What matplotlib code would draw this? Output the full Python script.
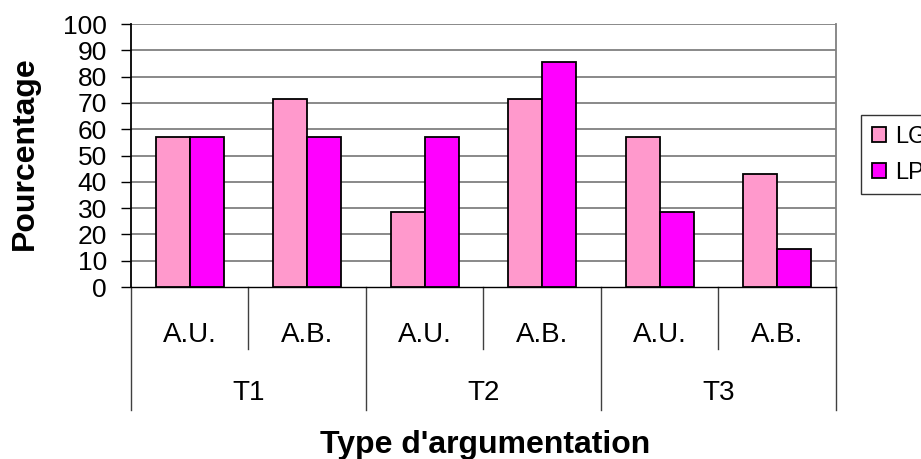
import numpy as np
import matplotlib.pyplot as plt
from matplotlib.patches import Patch

plt.rcParams["font.family"] = ["Liberation Sans", "DejaVu Sans"]

# ------------------------------------------------------------
# data
# ------------------------------------------------------------
sub_labels = ["A.U.", "A.B.", "A.U.", "A.B.", "A.U.", "A.B."]
group_labels = ["T1", "T2", "T3"]
lg_values = [57.1, 71.4, 28.6, 71.4, 57.1, 42.9]
lp_values = [57.1, 57.1, 57.1, 85.7, 28.6, 14.3]
series_names = ["LG", "LP"]
y_ticks = list(range(0, 101, 10))

LG_COLOR = "#FF99CC"
LP_COLOR = "#FF00FF"
GRID_COLOR = "#808080"

# ------------------------------------------------------------
# figure
# ------------------------------------------------------------
fig = plt.figure(figsize=(9.21, 4.59), dpi=100)
ax = fig.add_axes([0.1422, 0.3747, 0.7655, 0.573])

x = np.arange(len(sub_labels))
w = 0.29
ax.bar(x - w / 2, lg_values, width=w, color=LG_COLOR, edgecolor="black", linewidth=1.3, zorder=3)
ax.bar(x + w / 2, lp_values, width=w, color=LP_COLOR, edgecolor="black", linewidth=1.3, zorder=3)

ax.set_xlim(-0.5, len(sub_labels) - 0.5)
ax.set_ylim(0, 100)
ax.set_yticks(y_ticks)
ax.set_yticklabels([str(v) for v in y_ticks], fontsize=19)
ax.tick_params(axis="y", direction="out", length=7.2, width=1, pad=10, colors="black")
ax.set_xticks([])

for v in y_ticks[1:]:
    ax.axhline(v, color=GRID_COLOR, linewidth=1.3, zorder=1)

ax.spines["left"].set_color("black")
ax.spines["left"].set_linewidth(1.3)
ax.spines["bottom"].set_color("black")
ax.spines["bottom"].set_linewidth(1.0)
ax.spines["right"].set_color(GRID_COLOR)
ax.spines["right"].set_linewidth(1.3)
ax.spines["top"].set_visible(False)

fig.text(25 / 921, 1 - 153 / 459, "Pourcentage", rotation=90, ha="center", va="center",
         fontsize=23, fontweight="bold")

# multi-level category axis
trans = ax.get_xaxis_transform()
for i in range(len(sub_labels) + 1):
    xb = i - 0.5
    depth = -0.468 if i % 2 == 0 else -0.236
    ax.plot([xb, xb], [0, depth], transform=trans, color="#404040",
            linewidth=1.0, clip_on=False)

for i, lab in enumerate(sub_labels):
    ax.text(i, -0.209, lab, transform=trans, ha="center", va="baseline", fontsize=20)

for g, lab in enumerate(group_labels):
    ax.text(2 * g + 0.5, -0.430, lab, transform=trans, ha="center", va="baseline", fontsize=20)

fig.text(485 / 921, 1 - 453 / 459, "Type d'argumentation", ha="center", va="baseline",
         fontsize=23, fontweight="bold")

# legend
handles = [Patch(facecolor=LG_COLOR, edgecolor="black", linewidth=1.3),
           Patch(facecolor=LP_COLOR, edgecolor="black", linewidth=1.3)]
leg = fig.legend(handles, series_names, loc="upper left",
                 bbox_to_anchor=(0.9349, 0.7495), fontsize=17,
                 frameon=True, fancybox=False, shadow=False,
                 handlelength=0.6, handleheight=0.6, handletextpad=0.4,
                 labelspacing=0.6, borderpad=0.45, borderaxespad=0)
leg.get_frame().set_edgecolor("black")
leg.get_frame().set_linewidth(1.0)

fig.savefig("out.png", dpi=100)
